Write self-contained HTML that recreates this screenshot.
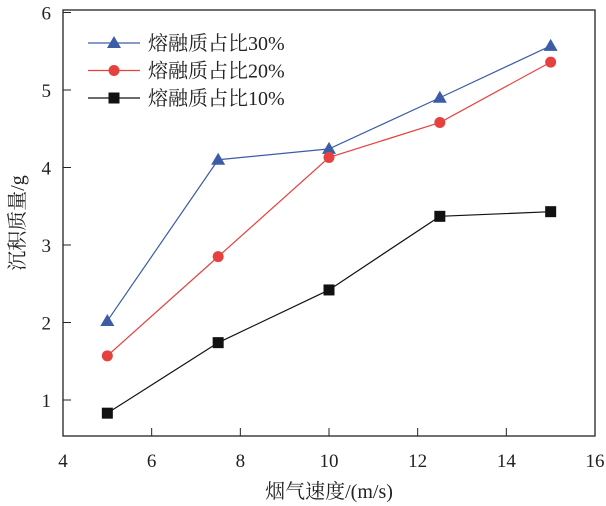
<!DOCTYPE html><html><head><meta charset="utf-8"><style>body{margin:0;background:#fff}svg{display:block}text{font-family:"Liberation Serif","Noto Serif CJK SC",serif;fill:#222}</style></head><body>
<svg id="c" width="606" height="506"></svg>
<script>
const categories=[5,7.5,10,12.5,15];
const s30=[2.02,4.10,4.24,4.90,5.57];
const s20=[1.57,2.85,4.13,4.58,5.36];
const s10=[0.83,1.74,2.42,3.37,3.43];
const xTicks=[4,6,8,10,12,14,16];
const yTicks=[1,2,3,4,5,6];
const NS="http://www.w3.org/2000/svg",svg=document.getElementById('c');
const L=63,R=595,T=10,B=436;
const X=v=>L+(v-4)/12*(R-L);
const Y=v=>400-(v-1)*77.5;
function el(t,a,p){const e=document.createElementNS(NS,t);for(const k in a)e.setAttribute(k,a[k]);(p||svg).appendChild(e);return e;}
const box=el('rect',{x:L,y:T,width:R-L,height:B-T,fill:'none',stroke:'#222','stroke-width':1.3});


xTicks.forEach(v=>{const l=el('line',{x1:X(v),x2:X(v),y1:B,y2:B-8,stroke:'#222'});


const t=el('text',{x:X(v),y:B+31,'text-anchor':'middle','font-size':19});t.textContent=v;

});
yTicks.forEach(v=>{const l=el('line',{x1:L,x2:L+8,y1:Y(v),y2:Y(v),stroke:'#222'});


const t=el('text',{x:L-12,y:Y(v)+7,'text-anchor':'end','font-size':19});t.textContent=v;

});
const xt=el('text',{x:329,y:498,'text-anchor':'middle','font-size':20});xt.textContent='烟气速度/(m/s)';


const yt=el('text',{x:0,y:0,'text-anchor':'middle','font-size':20,transform:'translate(24,223) rotate(-90)'});yt.textContent='沉积质量/g';


function marker(type,x,y,c,g){let m;
if(type==='tri')m=el('polygon',{points:`${x},${y-7} ${x-7},${y+5} ${x+7},${y+5}`,fill:c},g);
else if(type==='circ')m=el('circle',{cx:x,cy:y,r:5.5,fill:c},g);
else m=el('rect',{x:x-5.5,y:y-5.5,width:11,height:11,fill:c},g);

}
const series=[[s30,'#3d5ca6','tri','熔融质占比30%','series-30'],[s20,'#e5413f','circ','熔融质占比20%','series-20'],[s10,'#111','sq','熔融质占比10%','series-10']];
series.forEach(([d,c,m,name,nm],i)=>{const g=el('g',{});


el('polyline',{points:d.map((v,j)=>X(categories[j])+','+Y(v)).join(' '),fill:'none',stroke:c,'stroke-width':1.2},g);
d.forEach((v,j)=>marker(m,X(categories[j]),Y(v),c,g));
const ly=43+i*27.5;const lg=el('g',{});


el('line',{x1:88,x2:140,y1:ly,y2:ly,stroke:c,'stroke-width':1.2},lg);marker(m,114,ly,c,lg);
const t=el('text',{x:148,y:ly+7,'font-size':20},lg);t.textContent=name;});
</script></body></html>
